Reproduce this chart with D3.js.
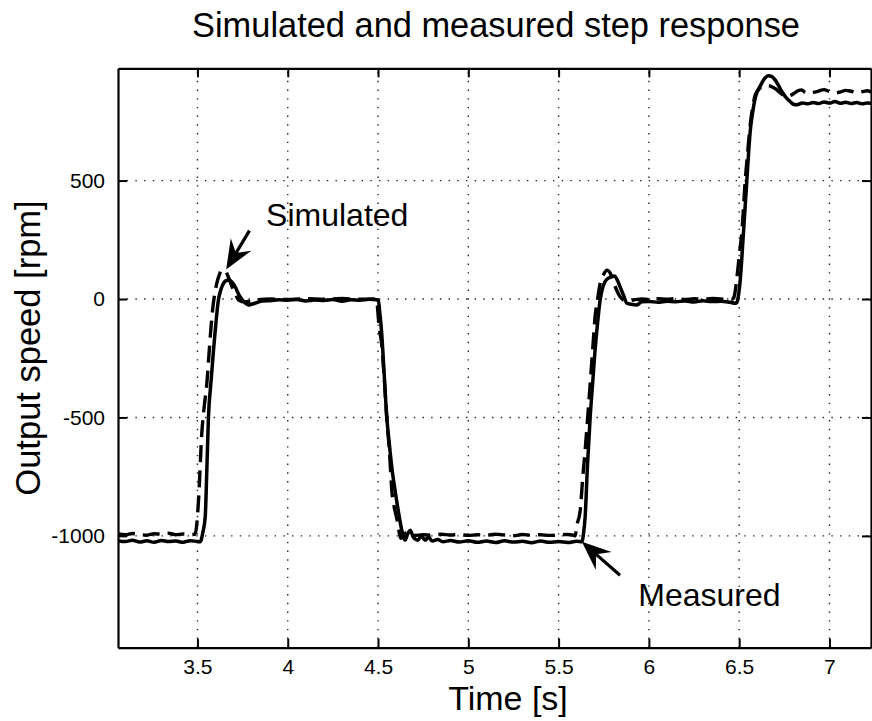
<!DOCTYPE html>
<html>
<head>
<meta charset="utf-8">
<script src="https://cdn.jsdelivr.net/npm/d3@7"></script>
<style>
  html, body { margin: 0; padding: 0; background: #fff; }
  svg { display: block; }
  text { font-family: "Liberation Sans", Arial, Helvetica, sans-serif; fill: #000; }
</style>
</head>
<body>
<svg id="chart" width="872" height="721"></svg>
<script>
// ---------------- DATA ----------------
const chartTitle = "Simulated and measured step response";
const xLabel = "Time [s]";
const yLabel = "Output speed [rpm]";
const xTicks = [3.5, 4, 4.5, 5, 5.5, 6, 6.5, 7];
const yTicks = [-1000, -500, 0, 500];
const xDomain = [3.06, 7.23];
const yDomain = [-1472, 974];

// Measured response (solid line)
const tMeas = [3.06,3.10,3.14,3.18,3.22,3.26,3.30,3.34,3.38,3.42,3.46,3.50,3.515,3.53,3.543,3.552,3.561,3.575,3.589,3.603,3.616,3.63,3.644,3.66,3.677,3.693,3.709,3.722,3.736,3.755,3.782,3.80,3.829,3.86,3.903,3.95,4.00,4.05,4.10,4.15,4.20,4.25,4.30,4.35,4.40,4.45,4.49,4.502,4.51,4.521,4.535,4.549,4.563,4.577,4.595,4.613,4.63,4.65,4.665,4.678,4.695,4.72,4.74,4.761,4.78,4.80,4.83,4.86,4.90,4.95,5.00,5.05,5.10,5.15,5.20,5.25,5.30,5.35,5.40,5.45,5.50,5.55,5.60,5.629,5.638,5.647,5.66,5.675,5.69,5.702,5.716,5.73,5.743,5.757,5.78,5.809,5.825,5.84,5.86,5.878,5.90,5.933,5.96,6.00,6.05,6.10,6.15,6.20,6.25,6.30,6.35,6.40,6.45,6.48,6.487,6.495,6.505,6.524,6.542,6.561,6.575,6.589,6.60,6.615,6.64,6.662,6.68,6.699,6.715,6.736,6.76,6.782,6.80,6.82,6.85,6.88,6.91,6.94,6.97,7.00,7.03,7.06,7.09,7.12,7.15,7.18,7.21,7.23];
const vMeas = [-1020,-1024,-1018,-1026,-1021,-1027,-1019,-1024,-1022,-1027,-1020,-1024,-1025,-985,-920,-720,-497,-350,-215,-95,-4,40,66,78,80,70,52,30,10,-10,-25,-22,-15,-8,-7,-3,-5,-2,-8,-4,-6,-2,-9,-3,-5,-1,-3,-6,-60,-152,-330,-504,-615,-715,-810,-898,-970,-1018,-990,-976,-1005,-1018,-1000,-1018,-1005,-1022,-1015,-1025,-1019,-1026,-1020,-1027,-1022,-1028,-1021,-1026,-1023,-1029,-1022,-1027,-1024,-1028,-1023,-1025,-990,-920,-700,-497,-340,-215,-100,-4,45,73,90,97,80,52,15,-18,-22,-25,-12,-10,-14,-9,-12,-8,-13,-7,-11,-9,-14,-18,-15,10,73,284,496,707,790,848,875,897,930,943,940,925,905,876,850,834,822,820,828,824,830,825,832,827,834,826,831,825,830,824,828,826];

// Simulated response (dashed line)
const tSim = [3.06,3.10,3.14,3.18,3.22,3.26,3.30,3.34,3.38,3.42,3.46,3.487,3.495,3.506,3.524,3.538,3.552,3.566,3.58,3.593,3.607,3.62,3.635,3.653,3.67,3.69,3.71,3.73,3.76,3.80,3.85,3.90,4.00,4.10,4.20,4.30,4.40,4.49,4.495,4.505,4.52,4.535,4.549,4.563,4.577,4.59,4.604,4.615,4.625,4.64,4.66,4.68,4.70,4.75,4.80,4.85,4.90,4.95,5.00,5.05,5.10,5.15,5.20,5.25,5.30,5.35,5.40,5.45,5.50,5.55,5.58,5.592,5.60,5.62,5.633,5.647,5.661,5.675,5.689,5.702,5.716,5.73,5.75,5.767,5.785,5.80,5.82,5.84,5.86,5.88,5.92,5.96,6.00,6.05,6.10,6.15,6.20,6.25,6.30,6.35,6.40,6.46,6.468,6.475,6.487,6.50,6.515,6.533,6.547,6.561,6.575,6.589,6.615,6.64,6.662,6.68,6.70,6.72,6.74,6.758,6.78,6.806,6.826,6.846,6.863,6.88,6.91,6.94,6.97,7.00,7.03,7.06,7.09,7.12,7.15,7.18,7.21,7.23];
const vSim = [-992,-995,-990,-994,-997,-991,-993,-989,-995,-992,-994,-993,-960,-849,-567,-450,-356,-210,-75,10,66,100,122,120,95,55,20,-5,-12,-8,-2,0,-2,1,-1,2,-1,0,-20,-110,-190,-340,-510,-640,-814,-880,-927,-975,-1010,-1000,-985,-995,-998,-995,-997,-993,-996,-994,-998,-995,-997,-993,-996,-999,-994,-997,-995,-998,-996,-994,-997,-1000,-960,-891,-760,-638,-500,-356,-210,-75,0,66,105,122,110,80,40,10,-5,-8,-3,0,-2,1,-1,2,-2,1,-1,2,0,-1,3,20,87,180,284,496,620,735,810,862,890,898,901,896,888,875,862,855,858,869,879,883,873,868,872,878,884,876,870,874,881,877,871,875,879,873];

// Annotations (data coordinates)
const annoLabels = ["Simulated", "Measured"];
const annoText = [[3.88, 308], [5.941, -1297]];
const annoTail = [[3.788, 289], [5.84, -1166]];
const annoTip = [[3.659, 125], [5.629, -1025]];

// ---------------- LAYOUT ----------------
const svg = d3.select("#chart");
const plot = { left: 118, right: 871, top: 68.3, bottom: 647.7 };

const x = d3.scaleLinear().domain(xDomain).range([plot.left, plot.right]);
const y = d3.scaleLinear().domain(yDomain).range([plot.bottom, plot.top]);

svg.append("defs").append("clipPath").attr("id", "clip")
  .append("rect")
  .attr("x", plot.left).attr("y", plot.top)
  .attr("width", plot.right - plot.left).attr("height", plot.bottom - plot.top);

// Grid
const grid = svg.append("g").attr("class", "grid")
  .attr("stroke", "#222").attr("stroke-width", 1.4).attr("stroke-dasharray", "1.4,7.3");
grid.selectAll("line.v").data(xTicks).join("line").attr("class", "v")
  .attr("x1", d => x(d)).attr("x2", d => x(d))
  .attr("y1", plot.bottom).attr("y2", plot.top);
grid.selectAll("line.h").data(yTicks).join("line").attr("class", "h")
  .attr("y1", d => y(d)).attr("y2", d => y(d))
  .attr("x1", plot.left).attr("x2", plot.right);

// Axes (inward ticks on all four sides)
const tickLen = 9;
const fmt = d => String(d);
const axB = svg.append("g").attr("transform", `translate(0,${plot.bottom})`)
  .call(d3.axisBottom(x).tickValues(xTicks).tickFormat(fmt).tickSizeInner(-tickLen).tickSizeOuter(0).tickPadding(11));
const axT = svg.append("g").attr("transform", `translate(0,${plot.top})`)
  .call(d3.axisTop(x).tickValues(xTicks).tickFormat("").tickSizeInner(-tickLen).tickSizeOuter(0));
const axL = svg.append("g").attr("transform", `translate(${plot.left},0)`)
  .call(d3.axisLeft(y).tickValues(yTicks).tickFormat(fmt).tickSizeInner(-tickLen).tickSizeOuter(0).tickPadding(13));
const axR = svg.append("g").attr("transform", `translate(${plot.right},0)`)
  .call(d3.axisRight(y).tickValues(yTicks).tickFormat("").tickSizeInner(-tickLen).tickSizeOuter(0));
[axB, axT, axL, axR].forEach(a => {
  a.select(".domain").attr("stroke", "#000").attr("stroke-width", 2.2);
  a.selectAll(".tick line").attr("stroke", "#000").attr("stroke-width", 2);
  a.selectAll(".tick text").attr("font-size", 21).attr("font-family", "Liberation Sans, Arial, sans-serif").attr("fill", "#000");
});

// Lines
const line = d3.line().x(d => x(d[0])).y(d => y(d[1])).curve(d3.curveMonotoneX);
const measPts = tMeas.map((t, i) => [t, vMeas[i]]);
const simPts = tSim.map((t, i) => [t, vSim[i]]);
const lines = svg.append("g").attr("clip-path", "url(#clip)");
lines.append("path").datum(simPts).attr("d", line)
  .attr("fill", "none").attr("stroke", "#000").attr("stroke-width", 3.4)
  .attr("stroke-dasharray", "17,8").attr("stroke-linejoin", "round");
lines.append("path").datum(measPts).attr("d", line)
  .attr("fill", "none").attr("stroke", "#000").attr("stroke-width", 3.5)
  .attr("stroke-linejoin", "round").attr("stroke-linecap", "round");

// Annotations
const anno = svg.append("g");
annoLabels.forEach((lab, i) => {
  anno.append("text").attr("x", x(annoText[i][0])).attr("y", y(annoText[i][1]))
    .attr("font-size", 32).text(lab);
  const tx = x(annoTail[i][0]), ty = y(annoTail[i][1]);
  const hx = x(annoTip[i][0]), hy = y(annoTip[i][1]);
  const dx = hx - tx, dy = hy - ty, len = Math.hypot(dx, dy);
  const ux = dx / len, uy = dy / len, px = -uy, py = ux;
  const L = 29, W = 12, N = 19;
  anno.append("line").attr("x1", tx).attr("y1", ty)
    .attr("x2", hx - ux * N).attr("y2", hy - uy * N)
    .attr("stroke", "#000").attr("stroke-width", 3.2);
  const head = [
    [hx, hy],
    [hx - ux * L + px * W, hy - uy * L + py * W],
    [hx - ux * N, hy - uy * N],
    [hx - ux * L - px * W, hy - uy * L - py * W]
  ];
  anno.append("path").attr("d", "M" + head.map(p => p.join(",")).join("L") + "Z").attr("fill", "#000");
});

// Titles
svg.append("text").attr("x", 496).attr("y", 36.5)
  .attr("text-anchor", "middle").attr("font-size", 34.4).text(chartTitle);
svg.append("text").attr("x", 508).attr("y", 710)
  .attr("text-anchor", "middle").attr("font-size", 34).text(xLabel);
svg.append("text").attr("transform", `translate(40,${(plot.top + plot.bottom) / 2 - 10}) rotate(-90)`)
  .attr("text-anchor", "middle").attr("font-size", 34.5).text(yLabel);
</script>
</body>
</html>
